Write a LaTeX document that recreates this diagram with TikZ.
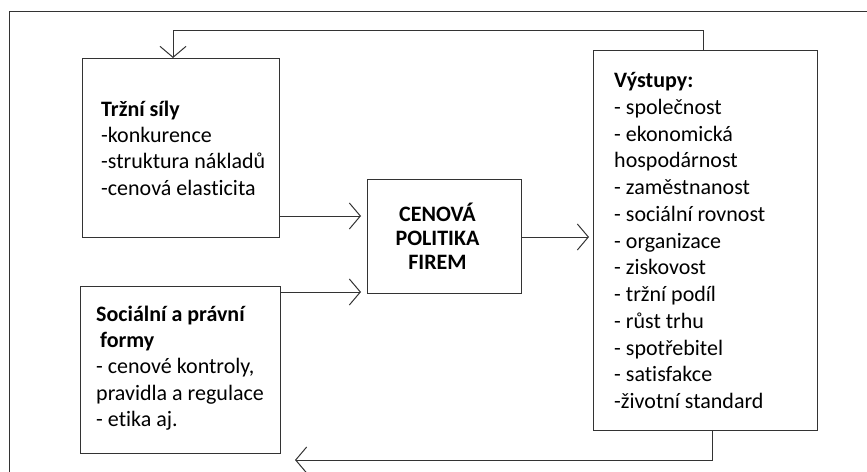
\documentclass[tikz,border=0pt]{standalone}
\usepackage{fontspec}
\setmainfont{Carlito}[Ligatures={NoCommon}]
\usetikzlibrary{arrows.meta}
\begin{document}
\begin{tikzpicture}[x=1pt,y=-1pt,
  line/.style={draw=black!80, line width=1pt},
  box/.style={line, rectangle, inner sep=0pt, anchor=north west},
  txt/.style={anchor=west, align=left, inner sep=0pt,
    font=\fontsize{22}{26.3}\selectfont},
  arr/.style={line, -{Straight Barb[length=11pt,width=26pt,line width=1pt]}}
]
\useasboundingbox (0,0) rectangle (867,471);

% outer frame (partly outside the page)
\draw[line] (9,480) -- (9,11) -- (880,11);

% boxes
\node[box, minimum width=197pt, minimum height=179pt] (trzni) at (82,58) {};
\node[box, minimum width=200pt, minimum height=167pt] (social) at (80,286) {};
\node[box, minimum width=154pt, minimum height=114pt] (cenova) at (367,179) {};
\node[box, minimum width=224pt, minimum height=380pt] (vystupy) at (593,50) {};

% texts
\node[txt] (trzniT) at ([xshift=19pt]trzni.west)
  {\textbf{Tržní síly}\\-konkurence\\-struktura nákladů\\-cenová elasticita};
\node[txt] (socialT) at ([xshift=16pt,yshift=2pt]social.west)
  {\textbf{Sociální a právní}\\\hspace*{4pt}\textbf{formy}\\- cenové kontroly,\\pravidla a regulace\\- etika aj.};
\node[txt, anchor=center, align=center, font=\fontsize{22}{24}\selectfont\bfseries]
  (cenovaT) at ([xshift=-7pt]cenova.center) {CENOVÁ\\POLITIKA\\FIREM};
\node[txt, font=\fontsize{22}{26.75}\selectfont] (vystupyT) at ([xshift=21pt]vystupy.west)
  {\textbf{Výstupy:}\\- společnost\\- ekonomická\\hospodárnost\\- zaměstnanost\\- sociální rovnost\\- organizace\\- ziskovost\\- tržní podíl\\- růst trhu\\- spotřebitel\\- satisfakce\\-životní standard};

% connector levels
\coordinate (y1) at (0,216);
\coordinate (y2) at (0,292);
\coordinate (y3) at (0,237);
\coordinate (t1) at (703,30);
\coordinate (t2) at (173,30);
\coordinate (b1) at (712,460);
\coordinate (b2) at (295,460);

% connectors
\draw[arr, shorten >=6pt] (trzni.east |- y1) -- (cenova.west |- y1);
\draw[arr, shorten >=6pt] (social.east |- y2) -- (cenova.west |- y2);
\draw[arr, shorten >=4pt] (cenova.east |- y3) -- (vystupy.west |- y3);
\draw[arr] (vystupy.north -| t1) -- (t1) -- (t2) -- (trzni.north -| t2);
\draw[arr] (vystupy.south -| b1) -- (b1) -- (b2);
\end{tikzpicture}
\end{document}
